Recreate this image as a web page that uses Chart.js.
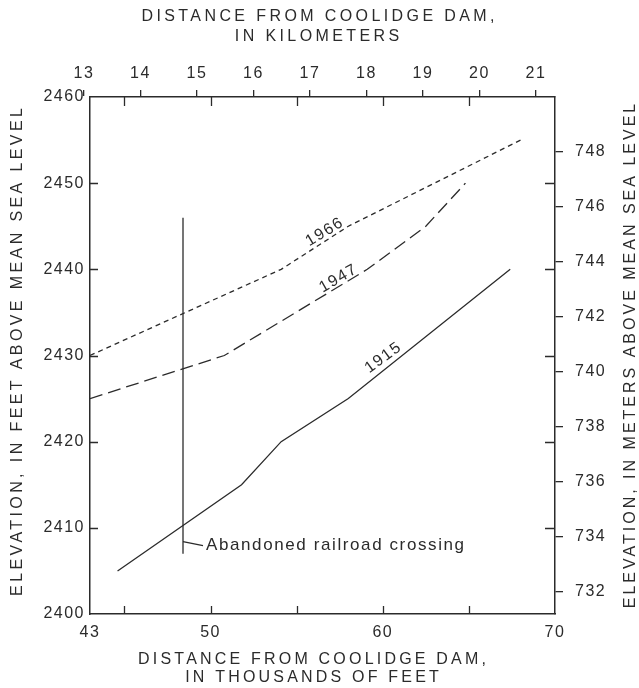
<!DOCTYPE html>
<html>
<head>
<meta charset="utf-8">
<script src="https://cdn.jsdelivr.net/npm/chart.js@4.4.1/dist/chart.umd.min.js"></script>
<style>
    body { margin: 0; background: #fff; }
    #chart01 { display: block; }
</style>
</head>
<body>
<canvas id="chart01" width="639" height="688"></canvas>
<script>
// distance from Coolidge Dam (thousands of feet) / elevation (feet)
const dist1915 = [44.6, 51.8, 54.1, 58, 67.4];
const elev1915 = [2405, 2415, 2420, 2425, 2440];
const dist1947 = [43, 50.8, 59.1, 62.5, 64.8];
const elev1947 = [2425, 2430, 2440, 2445, 2450];
const dist1966 = [43, 54.1, 58, 68];
const elev1966 = [2430, 2440, 2445, 2455];
const railDist = [48.4, 48.4];
const railElev = [2407, 2446];

const feetTicks = [2400, 2410, 2420, 2430, 2440, 2450, 2460];
const meterTicks = [732, 734, 736, 738, 740, 742, 744, 746, 748];
const kmTicks = [13, 14, 15, 16, 17, 18, 19, 20, 21];
const kftTicks = [43, 50, 60, 70];
const kftMarks = [45, 50, 55, 60, 65];
const feetMarks = [2410, 2420, 2430, 2440, 2450];

const curveNames = ['1966', '1947', '1915'];
const curveLabelDist = [56.6, 57.4, 60.0];
const curveLabelElev = [2444.3, 2438.9, 2429.7];

const ink = '#2b2b2b';
const family = '"Liberation Sans", Arial, sans-serif';
const tickFont = { family: family, size: 16 };

function toPoints(xs, ys) {
    return xs.map((v, i) => ({ x: v, y: ys[i] }));
}

function spacedText(ctx, text, x, y, rot, size, spacing, align = 'center') {
    ctx.save();
    ctx.translate(x, y);
    ctx.rotate(rot);
    ctx.font = `${size}px ${family}`;
    ctx.letterSpacing = spacing + 'px';
    ctx.fillStyle = ink;
    ctx.textAlign = align;
    ctx.textBaseline = 'middle';
    ctx.fillText(text, align == 'center' ? spacing / 2 : 0, 0);
    ctx.restore();
}

const decor = {
    id: 'decor',
    beforeLayout(chart) {
        chart.ctx.letterSpacing = '1.5px';
    },
    beforeDraw(chart) {
        chart.ctx.letterSpacing = '1.5px';
    },
    afterDraw(chart) {
        const { ctx, chartArea: a, scales } = chart;
        const x = scales.x, y = scales.y;
        ctx.save();
        ctx.strokeStyle = ink;
        ctx.lineWidth = 1.3;
        ctx.beginPath();
        kftMarks.forEach(v => {
            const px = Math.round(x.getPixelForValue(v)) + 0.5;
            ctx.moveTo(px, a.bottom);
            ctx.lineTo(px, a.bottom - 8);
            ctx.moveTo(px, a.top);
            ctx.lineTo(px, a.top + 9);
        });
        feetMarks.forEach(v => {
            const py = Math.round(y.getPixelForValue(v)) + 0.5;
            ctx.moveTo(a.left, py);
            ctx.lineTo(a.left + 8, py);
            ctx.moveTo(a.right, py);
            ctx.lineTo(a.right - 10, py);
        });
        // leader to the railroad note
        const lx = x.getPixelForValue(railDist[0]);
        const ly = y.getPixelForValue(2408.4);
        ctx.moveTo(lx, ly);
        ctx.lineTo(lx + 20, ly + 4);
        ctx.stroke();
        ctx.restore();

        spacedText(ctx, 'Abandoned railroad crossing', lx + 23, ly + 4, 0, 17, 1.6, 'left');

        const angles = [-31, -30, -36];
        curveNames.forEach((name, i) => {
            spacedText(ctx, name, x.getPixelForValue(curveLabelDist[i]), y.getPixelForValue(curveLabelElev[i]),
                angles[i] * Math.PI / 180, 16, 1.5);
        });

        // axis titles
        spacedText(ctx, 'DISTANCE FROM COOLIDGE DAM,', 318, 17, 0, 16, 3.4);
        spacedText(ctx, 'IN KILOMETERS', 317, 37, 0, 16, 3.4);
        spacedText(ctx, 'DISTANCE FROM COOLIDGE DAM,', 312, 660, 0, 16, 3.2);
        spacedText(ctx, 'IN THOUSANDS OF FEET', 312, 678, 0, 16, 3.2);
        spacedText(ctx, 'ELEVATION, IN FEET ABOVE MEAN SEA LEVEL', 18, 352, -Math.PI / 2, 16, 3.4);
        spacedText(ctx, 'ELEVATION, IN METERS ABOVE MEAN SEA LEVEL', 631, 356, -Math.PI / 2, 16, 3.0);
    }
};

function lineSet(label, xs, ys, dash) {
    return {
        label: label,
        data: toPoints(xs, ys),
        borderColor: ink,
        borderWidth: 1.3,
        borderDash: dash,
        pointRadius: 0,
        tension: 0,
        fill: false
    };
}

const ctx01 = document.getElementById('chart01');
const mainChart = new Chart(ctx01, {
    type: 'line',
    data: {
        datasets: [
            lineSet('1966', dist1966, elev1966, [5, 4]),
            lineSet('1947', dist1947, elev1947, [13, 6]),
            lineSet('1915', dist1915, elev1915, []),
            lineSet('railroad', railDist, railElev, [])
        ]
    },
    options: {
        responsive: false,
        animation: false,
        layout: { padding: 0, autoPadding: false },
        plugins: { legend: { display: false }, tooltip: { enabled: false } },
        scales: {
            x: {
                type: 'linear', position: 'bottom', min: 43, max: 70,
                afterBuildTicks: s => { s.ticks = kftTicks.map(v => ({ value: v })); },
                afterFit: s => { s.height = 74; },
                grid: { drawOnChartArea: false, drawTicks: false },
                border: { color: ink, width: 1.5 },
                ticks: { padding: 9, color: ink, font: tickFont, maxRotation: 0, autoSkip: false, callback: v => String(v) }
            },
            x2: {
                type: 'linear', position: 'top', min: 43 * 0.3048, max: 70 * 0.3048,
                afterBuildTicks: s => { s.ticks = kmTicks.map(v => ({ value: v })); },
                afterFit: s => { s.height = 97; },
                grid: { drawOnChartArea: false, drawTicks: true, tickLength: 7, color: ink, lineWidth: 1.3 },
                border: { color: ink, width: 1.5 },
                ticks: { padding: 7, color: ink, font: tickFont, maxRotation: 0, autoSkip: false, callback: v => String(v) }
            },
            y: {
                type: 'linear', position: 'left', min: 2400, max: 2460,
                afterBuildTicks: s => { s.ticks = feetTicks.map(v => ({ value: v })); },
                afterFit: s => { s.width = 90; },
                grid: { drawOnChartArea: false, drawTicks: false },
                border: { color: ink, width: 1.5 },
                ticks: { padding: 5, color: ink, font: tickFont, autoSkip: false, callback: v => String(v) }
            },
            y2: {
                type: 'linear', position: 'right', min: 731.2, max: 750.0,
                afterBuildTicks: s => { s.ticks = meterTicks.map(v => ({ value: v })); },
                afterFit: s => { s.width = 84; },
                grid: { drawOnChartArea: false, drawTicks: true, tickLength: 8, color: ink, lineWidth: 1.3 },
                border: { color: ink, width: 1.5 },
                ticks: { padding: 12, color: ink, font: tickFont, autoSkip: false, callback: v => String(v) }
            }
        }
    },
    plugins: [decor]
});
</script>
</body>
</html>
